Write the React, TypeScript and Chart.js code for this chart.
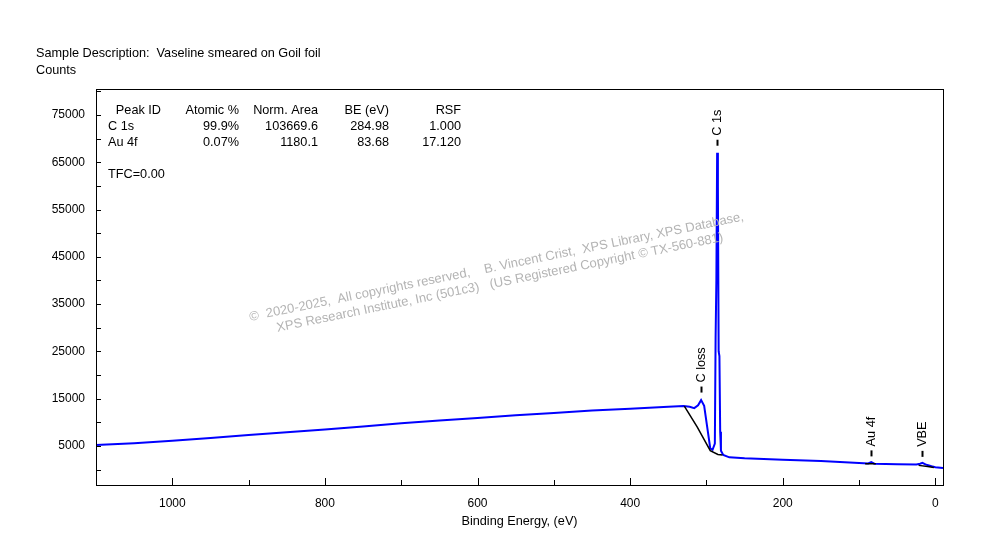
import { useEffect, useRef } from "react";
import { Chart, registerables } from "chart.js";

Chart.register(...registerables);

const energies = [1100, 1050, 1000, 950, 900, 850, 800, 750, 700, 650, 600, 550, 500, 450, 400, 350, 330, 322, 316, 311, 307, 303, 299, 295, 292, 289, 288, 287, 286, 285, 284, 283, 282, 281, 278, 270, 250, 200, 150, 100, 88, 84, 80, 50, 25, 20, 17, 13, 5, 0, -10];
const counts = [5200, 5600, 6100, 6700, 7300, 7900, 8500, 9100, 9800, 10400, 10900, 11500, 12000, 12500, 12900, 13300, 13450, 13300, 13000, 13600, 14700, 13500, 9000, 4500, 4200, 5500, 28000, 40000, 67000, 60000, 25000, 24000, 8000, 4000, 3100, 2600, 2400, 2100, 1800, 1400, 1300, 1600, 1250, 1150, 1100, 1250, 1450, 1100, 700, 500, 350];

const bgEnergies = [329, 312, 295, 285, 279, null, 92, 78, null, 22, 10, 2];
const bgCounts = [13450, 9000, 4000, 3200, 3100, null, 1250, 1250, null, 900, 650, 450];

const yTicks = [5000, 15000, 25000, 35000, 45000, 55000, 65000, 75000];
const xTicks = [1000, 800, 600, 400, 200, 0];

const peakLabels = ["C 1s", "C loss", "Au 4f", "VBE"];
const peakEnergies = [286, 307, 84, 17];
const peakCounts = [68500, 16300, 2800, 2700];

const tableHeader = ["Peak ID", "Atomic %", "Norm. Area", "BE (eV)", "RSF"];
const tableRows = [
  ["C 1s", "99.9%", "103669.6", "284.98", "1.000"],
  ["Au 4f", "0.07%", "1180.1", "83.68", "17.120"],
];

const FAMILY = "'Liberation Sans', Arial, sans-serif";
const FONT = "12px " + FAMILY;
const FONT_L = "12.7px " + FAMILY;

const decor = {
  id: "decor",
  afterDraw(chart: any) {
    const { ctx, chartArea: a, scales } = chart;
    const x = scales.x, y = scales.y;
    ctx.save();
    ctx.fillStyle = "#000";
    ctx.strokeStyle = "#000";
    ctx.lineWidth = 1;
    ctx.strokeRect(a.left + 0.5, a.top + 0.5, a.right - a.left, a.bottom - a.top);
    ctx.font = FONT;
    // y ticks
    ctx.textAlign = "right";
    ctx.textBaseline = "middle";
    for (let v = 0; v <= 80000; v += 5000) {
      const py = Math.round(y.getPixelForValue(v)) + 0.5;
      if (py < a.top || py > a.bottom) continue;
      ctx.beginPath();
      ctx.moveTo(a.left, py);
      ctx.lineTo(a.left + 5, py);
      ctx.stroke();
    }
    yTicks.forEach((v) => ctx.fillText(String(v), a.left - 11, y.getPixelForValue(v)));
    // x ticks
    ctx.textAlign = "center";
    ctx.textBaseline = "top";
    for (let v = 0; v <= 1100; v += 100) {
      const px = Math.round(x.getPixelForValue(v)) + 0.5;
      const len = v % 200 === 0 ? 7 : 5;
      ctx.beginPath();
      ctx.moveTo(px, a.bottom);
      ctx.lineTo(px, a.bottom - len);
      ctx.stroke();
    }
    xTicks.forEach((v) => ctx.fillText(String(v), x.getPixelForValue(v), a.bottom + 13));
    ctx.font = FONT_L;
    ctx.fillText("Binding Energy, (eV)", (a.left + a.right) / 2, a.bottom + 30);
    ctx.textAlign = "left";
    ctx.fillText("Sample Description:  Vaseline smeared on Goil foil", 36, 47);
    ctx.fillText("Counts", 36, 64);
    // table
    const colRight = [161, 239, 318, 389, 461];
    ctx.textBaseline = "middle";
    tableHeader.forEach((t, i) => {
      ctx.textAlign = "right";
      ctx.fillText(t, colRight[i], 110);
    });
    tableRows.forEach((row, r) => {
      row.forEach((t, i) => {
        ctx.textAlign = i === 0 ? "left" : "right";
        ctx.fillText(t, i === 0 ? 108 : colRight[i], 126 + r * 16);
      });
    });
    ctx.textAlign = "left";
    ctx.fillText("TFC=0.00", 108, 174);
    // peak markers
    peakLabels.forEach((lab, i) => {
      const px = Math.round(x.getPixelForValue(peakEnergies[i])) + 0.5;
      const py = y.getPixelForValue(peakCounts[i]);
      ctx.lineWidth = 2;
      ctx.beginPath();
      ctx.moveTo(px, py);
      ctx.lineTo(px, py - 6);
      ctx.stroke();
      ctx.save();
      ctx.translate(px, py - 10);
      ctx.rotate(-Math.PI / 2);
      ctx.textAlign = "left";
      ctx.textBaseline = "middle";
      ctx.fillText(lab, 0, 0);
      ctx.restore();
    });
    // watermark
    ctx.save();
    ctx.translate(498, 274);
    ctx.rotate(-11.5 * Math.PI / 180);
    ctx.fillStyle = "#b4b4b4";
    ctx.font = "13px " + FAMILY;
    ctx.textAlign = "center";
    ctx.textBaseline = "middle";
    ctx.fillText("\u00a9  2020-2025,  All copyrights reserved,    B. Vincent Crist,  XPS Library, XPS Database,", 0, -7);
    ctx.fillText("XPS Research Institute, Inc (501c3)   (US Registered Copyright \u00a9 TX-560-881)", 0, 9);
    ctx.restore();
    ctx.restore();
  },
};

export default function App() {
  const chartRef = useRef<HTMLCanvasElement>(null);
  const chartInstance = useRef<Chart | null>(null);

  useEffect(() => {
    if (!chartRef.current) return;
    if (chartInstance.current) chartInstance.current.destroy();
    const ctx = chartRef.current.getContext("2d");
    if (!ctx) return;

    chartInstance.current = new Chart(ctx, {
      type: "line",
      data: {
        datasets: [
          {
            label: "background",
            data: bgEnergies.map((e, i) => ({ x: e as any, y: bgCounts[i] as any })),
            borderColor: "#000000",
            borderWidth: 1.5,
            pointRadius: 0,
            spanGaps: false,
          },
          {
            label: "spectrum",
            data: energies.map((e, i) => ({ x: e, y: counts[i] })),
            borderColor: "#0000ff",
            borderWidth: 2,
            pointRadius: 0,
          },
        ],
      },
      options: {
        responsive: false,
        animation: false,
        events: [],
        layout: { padding: { left: 96, right: 57, top: 89, bottom: 74 } },
        plugins: { legend: { display: false }, tooltip: { enabled: false } },
        scales: {
          x: { type: "linear", reverse: true, min: -10, max: 1100, display: false },
          y: { type: "linear", min: -3250, max: 80500, display: false },
        },
      },
      plugins: [decor],
    });

    return () => {
      chartInstance.current?.destroy();
      chartInstance.current = null;
    };
  }, []);

  return (
    <div style={{ position: "fixed", left: 0, top: 0, width: 1000, height: 559, background: "#fff" }}>
      <canvas ref={chartRef} width={1000} height={559} />
    </div>
  );
}
